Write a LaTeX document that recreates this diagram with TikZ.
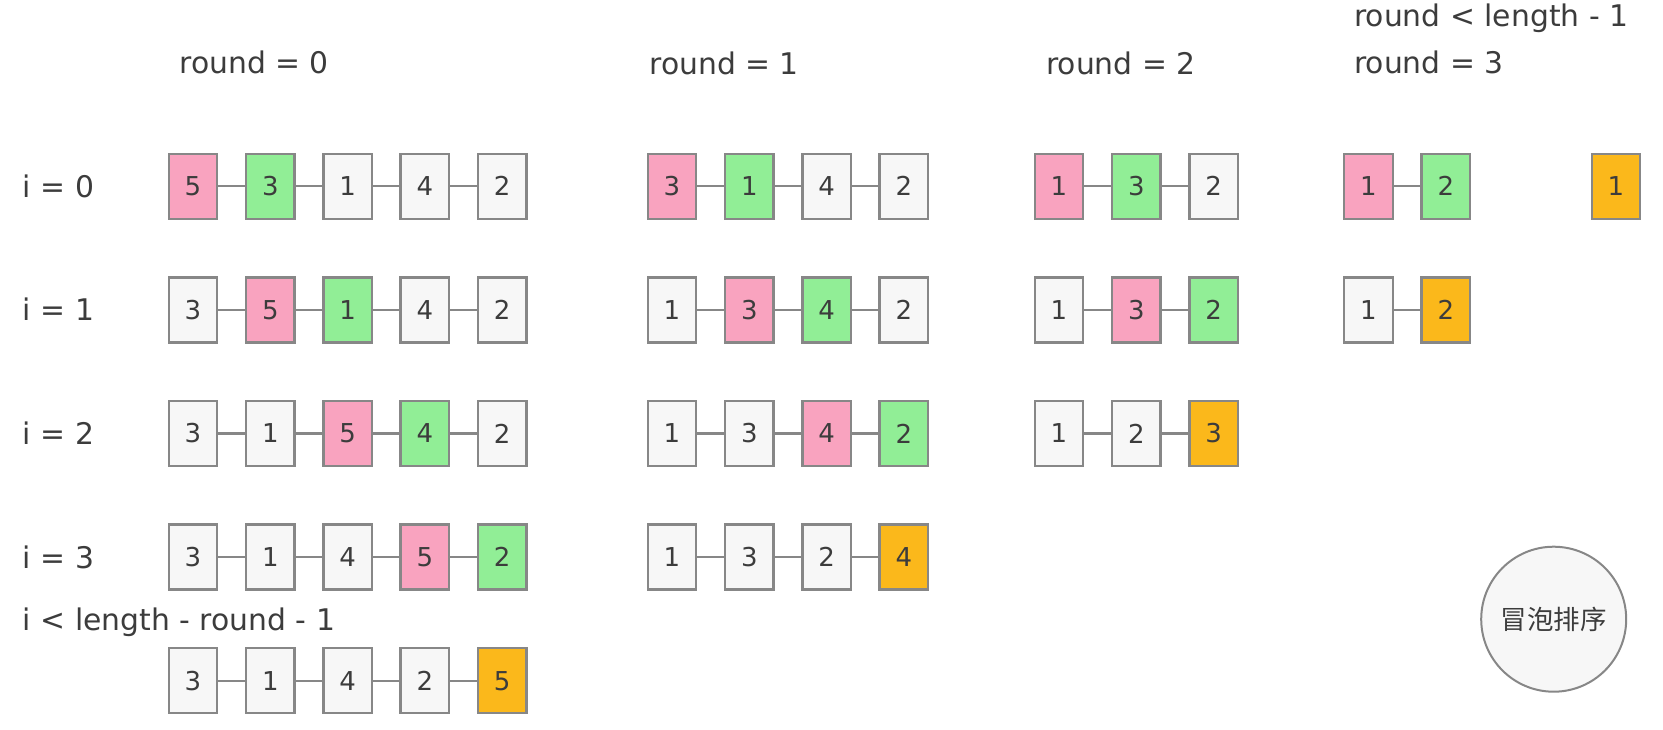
\documentclass[tikz,border=0pt]{standalone}
\usepackage{fontspec}
\setmainfont{DejaVu Sans}
\newfontfamily\cjk{Noto Sans CJK SC}
\definecolor{cmpfill}{HTML}{F9A3BF}
\definecolor{nextfill}{HTML}{91EE96}
\definecolor{donefill}{HTML}{FBB81B}
\definecolor{cellfill}{HTML}{F7F7F7}
\definecolor{edgegray}{HTML}{878787}
\definecolor{ink}{HTML}{3C3C3C}

\begin{document}
\begin{tikzpicture}[x=1pt, y=-1pt,
        box/.style={draw=edgegray, line width=2.4pt, fill=cellfill, text=ink,
                minimum width=48.5pt, minimum height=65pt, inner sep=0pt,
                font=\fontsize{26}{30}\selectfont},
        pick/.style={fill=cmpfill}, mate/.style={fill=nextfill},
        fixed/.style={fill=donefill}, idle/.style={},
        link/.style={draw=edgegray, line width=2.2pt},
        lbl/.style={anchor=base west, inner sep=0pt, text=ink,
                font=\fontsize{29.8}{34}\selectfont}]
        \useasboundingbox (0,0) rectangle (1663,729);

        % titles
        \node[lbl] (rcond) at (1354,26.7) {round < length - 1};
        \node[lbl] (r0) at (179.3,73.3) {round = 0};
        \node[lbl] (r1) at (649.3,74) {round = 1};
        \node[lbl] (r2) at (1046,74) {round = 2};
        \node[lbl] (r3) at (1354,73.3) {round = 3};
        \node[lbl] (i0) at (22.7,197.3) {i = 0};
        \node[lbl] (i1) at (22.7,320.9) {i = 1};
        \node[lbl] (i2) at (22.7,444.5) {i = 2};
        \node[lbl] (i3) at (22.7,568.1) {i = 3};
        \node[lbl] (icond) at (22.7,630.5) {i < length - round - 1};

        % the rows of cells
        \foreach \name/\x/\y/\vals in {
                s0i0/193/186.3/{5/pick,3/mate,1/idle,4/idle,2/idle},
                s0i1/193/309.9/{3/idle,5/pick,1/mate,4/idle,2/idle},
                s0i2/193/433.5/{3/idle,1/idle,5/pick,4/mate,2/idle},
                s0i3/193/557.1/{3/idle,1/idle,4/idle,5/pick,2/mate},
                s0end/193/680.7/{3/idle,1/idle,4/idle,2/idle,5/fixed},
                s1i0/672/186.3/{3/pick,1/mate,4/idle,2/idle},
                s1i1/672/309.9/{1/idle,3/pick,4/mate,2/idle},
                s1i2/672/433.5/{1/idle,3/idle,4/pick,2/mate},
                s1end/672/557.1/{1/idle,3/idle,2/idle,4/fixed},
                s2i0/1059/186.3/{1/pick,3/mate,2/idle},
                s2i1/1059/309.9/{1/idle,3/pick,2/mate},
                s2end/1059/433.5/{1/idle,2/idle,3/fixed},
                s3i0/1368.5/186.3/{1/pick,2/mate},
                s3end/1368.5/309.9/{1/idle,2/fixed},
                s4end/1616/186.3/{1/fixed}}
        {
                \foreach \v/\s [count=\k, remember=\k as \p (initially 0)] in \vals {
                        \node[box, \s] (\name-\k) at (\x+77.3*\k-77.3, \y) {\v};
                        \ifnum\k>1 \draw[link] (\name-\p) -- (\name-\k); \fi
                }
        }

        \node[draw=edgegray, line width=2pt, fill=cellfill, circle, minimum size=145pt,
                text=ink, font=\cjk\fontsize{26.5}{30}\selectfont] (sort) at (1553.7,619.2) {冒泡排序};
\end{tikzpicture}
\end{document}
